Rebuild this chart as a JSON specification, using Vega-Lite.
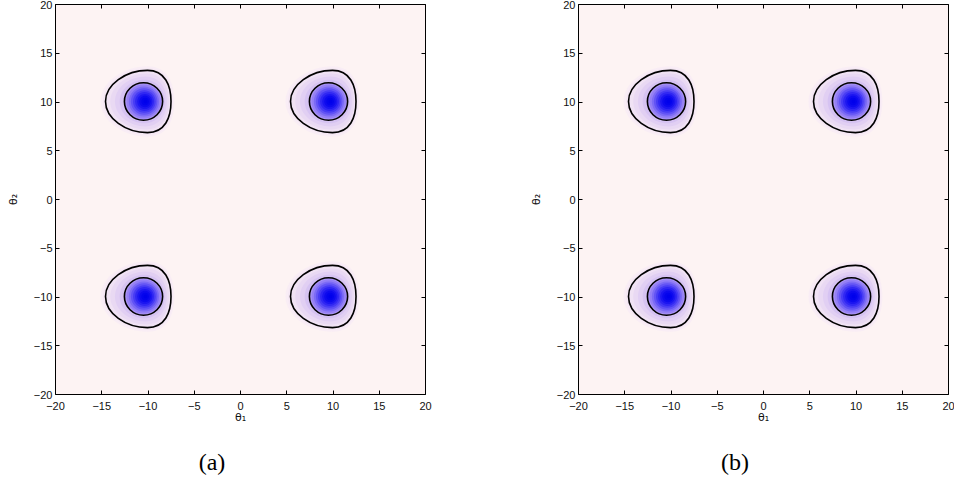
{
  "$schema": "https://vega.github.io/schema/vega-lite/v6.json",
  "background": "white",
  "padding": {"left": 7, "top": -1, "right": 5, "bottom": 5},
  "datasets": {
    "blobs": [
      {"panel": "a", "theta1": -10, "theta2": 10, "level": [0,1,2,3,4,5,6,7,8,9,10,11,12,13,14,15], "contour": [2,6]},
      {"panel": "a", "theta1": 10, "theta2": 10, "level": [0,1,2,3,4,5,6,7,8,9,10,11,12,13,14,15], "contour": [2,6]},
      {"panel": "a", "theta1": -10, "theta2": -10, "level": [0,1,2,3,4,5,6,7,8,9,10,11,12,13,14,15], "contour": [2,6]},
      {"panel": "a", "theta1": 10, "theta2": -10, "level": [0,1,2,3,4,5,6,7,8,9,10,11,12,13,14,15], "contour": [2,6]},
      {"panel": "b", "theta1": -10, "theta2": 10, "level": [0,1,2,3,4,5,6,7,8,9,10,11,12,13,14,15], "contour": [2,6]},
      {"panel": "b", "theta1": 10, "theta2": 10, "level": [0,1,2,3,4,5,6,7,8,9,10,11,12,13,14,15], "contour": [2,6]},
      {"panel": "b", "theta1": -10, "theta2": -10, "level": [0,1,2,3,4,5,6,7,8,9,10,11,12,13,14,15], "contour": [2,6]},
      {"panel": "b", "theta1": 10, "theta2": -10, "level": [0,1,2,3,4,5,6,7,8,9,10,11,12,13,14,15], "contour": [2,6]}
    ]
  },
  "spacing": 98,
  "hconcat": [
    {
      "width": 370, "height": 390,
      "data": {"name": "blobs"},
      "title": {"text": "(a)", "orient": "bottom", "anchor": "middle", "dx": -28, "offset": 29, "font": "Liberation Serif", "fontSize": 24, "fontWeight": "normal", "color": "black"},
      "transform": [{"filter": "datum.panel == 'a'"}],
      "layer": [
        {
          "transform": [{"flatten": ["level"]}],
          "mark": {"type": "point", "filled": true, "opacity": 1, "size": 7056, "strokeWidth": 0},
          "encoding": {
            "x": {"field": "theta1", "type": "quantitative", "scale": {"domain": [-20, 20], "nice": false, "zero": false},
              "axis": {"orient": "bottom", "values": [-20,-15,-10,-5,0,5,10,15,20], "tickSize": -4, "labelPadding": 10, "title": "θ₁", "titlePadding": 0}},
            "y": {"field": "theta2", "type": "quantitative", "scale": {"domain": [-20, 20], "nice": false, "zero": false},
              "axis": {"orient": "left", "values": [-20,-15,-10,-5,0,5,10,15,20], "tickSize": -4, "labelPadding": 7, "labelOffset": 1, "title": "θ₂", "titlePadding": 15}},
            "shape": {"field": "level", "type": "ordinal", "legend": null,
              "scale": {"domain": [0,1,2,3,4,5,6,7,8,9,10,11,12,13,14,15], "range": [
                "M-1.12,0C-1.12,-0.454,-0.582,-0.84,0,-0.84C0.48,-0.84,0.64,-0.428,0.64,0C0.64,0.428,0.48,0.84,0,0.84C-0.582,0.84,-1.12,0.454,-1.12,0Z",
                "M-1.06,0C-1.06,-0.427,-0.551,-0.79,0,-0.79C0.45,-0.79,0.6,-0.403,0.6,0C0.6,0.403,0.45,0.79,0,0.79C-0.551,0.79,-1.06,0.427,-1.06,0Z",
                "M-1,0C-1,-0.4,-0.52,-0.74,0,-0.74C0.42,-0.74,0.56,-0.377,0.56,0C0.56,0.377,0.42,0.74,0,0.74C-0.52,0.74,-1,0.4,-1,0Z",
                "M-0.888,0C-0.888,-0.362,-0.48,-0.666,-0.024,-0.666C0.35,-0.666,0.51,-0.347,0.51,0C0.51,0.347,0.35,0.666,-0.024,0.666C-0.48,0.666,-0.888,0.362,-0.888,0Z",
                "M-0.775,0C-0.775,-0.324,-0.438,-0.593,-0.048,-0.593C0.283,-0.593,0.46,-0.315,0.46,0C0.46,0.315,0.283,0.593,-0.048,0.593C-0.438,0.593,-0.775,0.324,-0.775,0Z",
                "M-0.663,0C-0.663,-0.285,-0.393,-0.519,-0.071,-0.519C0.218,-0.519,0.41,-0.281,0.41,0C0.41,0.281,0.218,0.519,-0.071,0.519C-0.393,0.519,-0.663,0.285,-0.663,0Z",
                "M-0.55,0C-0.55,-0.246,-0.346,-0.445,-0.095,-0.445C0.156,-0.445,0.36,-0.246,0.36,0C0.36,0.246,0.156,0.445,-0.095,0.445C-0.346,0.445,-0.55,0.246,-0.55,0Z",
                "M-0.5,0C-0.5,-0.224,-0.317,-0.405,-0.09,-0.405C0.137,-0.405,0.32,-0.224,0.32,0C0.32,0.224,0.137,0.405,-0.09,0.405C-0.317,0.405,-0.5,0.224,-0.5,0Z",
                "M-0.445,0C-0.445,-0.199,-0.283,-0.36,-0.085,-0.36C0.114,-0.36,0.275,-0.199,0.275,0C0.275,0.199,0.114,0.36,-0.085,0.36C-0.283,0.36,-0.445,0.199,-0.445,0Z",
                "M-0.395,0C-0.395,-0.174,-0.255,-0.315,-0.08,-0.315C0.094,-0.315,0.235,-0.174,0.235,0C0.235,0.174,0.094,0.315,-0.08,0.315C-0.255,0.315,-0.395,0.174,-0.395,0Z",
                "M-0.345,0C-0.345,-0.149,-0.225,-0.27,-0.075,-0.27C0.074,-0.27,0.195,-0.149,0.195,0C0.195,0.149,0.074,0.27,-0.075,0.27C-0.225,0.27,-0.345,0.149,-0.345,0Z",
                "M-0.295,0C-0.295,-0.124,-0.194,-0.225,-0.07,-0.225C0.054,-0.225,0.155,-0.124,0.155,0C0.155,0.124,0.054,0.225,-0.07,0.225C-0.194,0.225,-0.295,0.124,-0.295,0Z",
                "M-0.245,0C-0.245,-0.099,-0.164,-0.18,-0.065,-0.18C0.034,-0.18,0.115,-0.099,0.115,0C0.115,0.099,0.034,0.18,-0.065,0.18C-0.164,0.18,-0.245,0.099,-0.245,0Z",
                "M-0.195,0C-0.195,-0.075,-0.135,-0.135,-0.06,-0.135C0.015,-0.135,0.075,-0.075,0.075,0C0.075,0.075,0.015,0.135,-0.06,0.135C-0.135,0.135,-0.195,0.075,-0.195,0Z",
                "M-0.145,0C-0.145,-0.05,-0.105,-0.09,-0.055,-0.09C-0.005,-0.09,0.035,-0.05,0.035,0C0.035,0.05,-0.005,0.09,-0.055,0.09C-0.105,0.09,-0.145,0.05,-0.145,0Z",
                "M-0.095,0C-0.095,-0.025,-0.075,-0.045,-0.05,-0.045C-0.025,-0.045,-0.005,-0.025,-0.005,0C-0.005,0.025,-0.025,0.045,-0.05,0.045C-0.075,0.045,-0.095,0.025,-0.095,0Z"
              ]}},
            "fill": {"field": "level", "type": "ordinal", "legend": null,
              "scale": {"domain": [0,1,2,3,4,5,6,7,8,9,10,11,12,13,14,15], "range": ["#f9edf5","#f5e7f4","#f0e2f4","#e9d9f3","#e1cff3","#d6c3f2","#ab95f4","#9580f5","#7c6bf5","#6253f5","#473cf4","#3027f3","#1c16f1","#0d0aef","#0404ed","#0000ec"]}},
            "order": {"field": "level", "type": "quantitative"}
          }
        },
        {
          "transform": [{"flatten": ["contour"]}],
          "mark": {"type": "point", "filled": false, "opacity": 1, "size": 7056, "stroke": "black", "strokeWidth": 1.6},
          "encoding": {
            "x": {"field": "theta1", "type": "quantitative", "scale": {"domain": [-20, 20], "nice": false, "zero": false},
              "axis": {"orient": "top", "values": [-20,-15,-10,-5,0,5,10,15,20], "tickSize": -4, "labels": false, "title": null}},
            "y": {"field": "theta2", "type": "quantitative", "scale": {"domain": [-20, 20], "nice": false, "zero": false},
              "axis": {"orient": "right", "values": [-20,-15,-10,-5,0,5,10,15,20], "tickSize": -4, "labels": false, "title": null}},
            "shape": {"field": "contour", "type": "ordinal", "legend": null,
              "scale": {"domain": [0,1,2,3,4,5,6,7,8,9,10,11,12,13,14,15]}}
          }
        }
      ],
      "resolve": {"axis": {"x": "independent", "y": "independent"}}
    },
    {
      "width": 370, "height": 390,
      "data": {"name": "blobs"},
      "title": {"text": "(b)", "orient": "bottom", "anchor": "middle", "dx": -28, "offset": 29, "font": "Liberation Serif", "fontSize": 24, "fontWeight": "normal", "color": "black"},
      "transform": [{"filter": "datum.panel == 'b'"}],
      "layer": [
        {
          "transform": [{"flatten": ["level"]}],
          "mark": {"type": "point", "filled": true, "opacity": 1, "size": 7056, "strokeWidth": 0},
          "encoding": {
            "x": {"field": "theta1", "type": "quantitative", "scale": {"domain": [-20, 20], "nice": false, "zero": false},
              "axis": {"orient": "bottom", "values": [-20,-15,-10,-5,0,5,10,15,20], "tickSize": -4, "labelPadding": 10, "title": "θ₁", "titlePadding": 0}},
            "y": {"field": "theta2", "type": "quantitative", "scale": {"domain": [-20, 20], "nice": false, "zero": false},
              "axis": {"orient": "left", "values": [-20,-15,-10,-5,0,5,10,15,20], "tickSize": -4, "labelPadding": 7, "labelOffset": 1, "title": "θ₂", "titlePadding": 15}},
            "shape": {"field": "level", "type": "ordinal", "legend": null,
              "scale": {"domain": [0,1,2,3,4,5,6,7,8,9,10,11,12,13,14,15], "range": [
                "M-1.12,0C-1.12,-0.454,-0.582,-0.84,0,-0.84C0.48,-0.84,0.64,-0.428,0.64,0C0.64,0.428,0.48,0.84,0,0.84C-0.582,0.84,-1.12,0.454,-1.12,0Z",
                "M-1.06,0C-1.06,-0.427,-0.551,-0.79,0,-0.79C0.45,-0.79,0.6,-0.403,0.6,0C0.6,0.403,0.45,0.79,0,0.79C-0.551,0.79,-1.06,0.427,-1.06,0Z",
                "M-1,0C-1,-0.4,-0.52,-0.74,0,-0.74C0.42,-0.74,0.56,-0.377,0.56,0C0.56,0.377,0.42,0.74,0,0.74C-0.52,0.74,-1,0.4,-1,0Z",
                "M-0.888,0C-0.888,-0.362,-0.48,-0.666,-0.024,-0.666C0.35,-0.666,0.51,-0.347,0.51,0C0.51,0.347,0.35,0.666,-0.024,0.666C-0.48,0.666,-0.888,0.362,-0.888,0Z",
                "M-0.775,0C-0.775,-0.324,-0.438,-0.593,-0.048,-0.593C0.283,-0.593,0.46,-0.315,0.46,0C0.46,0.315,0.283,0.593,-0.048,0.593C-0.438,0.593,-0.775,0.324,-0.775,0Z",
                "M-0.663,0C-0.663,-0.285,-0.393,-0.519,-0.071,-0.519C0.218,-0.519,0.41,-0.281,0.41,0C0.41,0.281,0.218,0.519,-0.071,0.519C-0.393,0.519,-0.663,0.285,-0.663,0Z",
                "M-0.55,0C-0.55,-0.246,-0.346,-0.445,-0.095,-0.445C0.156,-0.445,0.36,-0.246,0.36,0C0.36,0.246,0.156,0.445,-0.095,0.445C-0.346,0.445,-0.55,0.246,-0.55,0Z",
                "M-0.5,0C-0.5,-0.224,-0.317,-0.405,-0.09,-0.405C0.137,-0.405,0.32,-0.224,0.32,0C0.32,0.224,0.137,0.405,-0.09,0.405C-0.317,0.405,-0.5,0.224,-0.5,0Z",
                "M-0.445,0C-0.445,-0.199,-0.283,-0.36,-0.085,-0.36C0.114,-0.36,0.275,-0.199,0.275,0C0.275,0.199,0.114,0.36,-0.085,0.36C-0.283,0.36,-0.445,0.199,-0.445,0Z",
                "M-0.395,0C-0.395,-0.174,-0.255,-0.315,-0.08,-0.315C0.094,-0.315,0.235,-0.174,0.235,0C0.235,0.174,0.094,0.315,-0.08,0.315C-0.255,0.315,-0.395,0.174,-0.395,0Z",
                "M-0.345,0C-0.345,-0.149,-0.225,-0.27,-0.075,-0.27C0.074,-0.27,0.195,-0.149,0.195,0C0.195,0.149,0.074,0.27,-0.075,0.27C-0.225,0.27,-0.345,0.149,-0.345,0Z",
                "M-0.295,0C-0.295,-0.124,-0.194,-0.225,-0.07,-0.225C0.054,-0.225,0.155,-0.124,0.155,0C0.155,0.124,0.054,0.225,-0.07,0.225C-0.194,0.225,-0.295,0.124,-0.295,0Z",
                "M-0.245,0C-0.245,-0.099,-0.164,-0.18,-0.065,-0.18C0.034,-0.18,0.115,-0.099,0.115,0C0.115,0.099,0.034,0.18,-0.065,0.18C-0.164,0.18,-0.245,0.099,-0.245,0Z",
                "M-0.195,0C-0.195,-0.075,-0.135,-0.135,-0.06,-0.135C0.015,-0.135,0.075,-0.075,0.075,0C0.075,0.075,0.015,0.135,-0.06,0.135C-0.135,0.135,-0.195,0.075,-0.195,0Z",
                "M-0.145,0C-0.145,-0.05,-0.105,-0.09,-0.055,-0.09C-0.005,-0.09,0.035,-0.05,0.035,0C0.035,0.05,-0.005,0.09,-0.055,0.09C-0.105,0.09,-0.145,0.05,-0.145,0Z",
                "M-0.095,0C-0.095,-0.025,-0.075,-0.045,-0.05,-0.045C-0.025,-0.045,-0.005,-0.025,-0.005,0C-0.005,0.025,-0.025,0.045,-0.05,0.045C-0.075,0.045,-0.095,0.025,-0.095,0Z"
              ]}},
            "fill": {"field": "level", "type": "ordinal", "legend": null,
              "scale": {"domain": [0,1,2,3,4,5,6,7,8,9,10,11,12,13,14,15], "range": ["#f9edf5","#f5e7f4","#f0e2f4","#e9d9f3","#e1cff3","#d6c3f2","#ab95f4","#9580f5","#7c6bf5","#6253f5","#473cf4","#3027f3","#1c16f1","#0d0aef","#0404ed","#0000ec"]}},
            "order": {"field": "level", "type": "quantitative"}
          }
        },
        {
          "transform": [{"flatten": ["contour"]}],
          "mark": {"type": "point", "filled": false, "opacity": 1, "size": 7056, "stroke": "black", "strokeWidth": 1.6},
          "encoding": {
            "x": {"field": "theta1", "type": "quantitative", "scale": {"domain": [-20, 20], "nice": false, "zero": false},
              "axis": {"orient": "top", "values": [-20,-15,-10,-5,0,5,10,15,20], "tickSize": -4, "labels": false, "title": null}},
            "y": {"field": "theta2", "type": "quantitative", "scale": {"domain": [-20, 20], "nice": false, "zero": false},
              "axis": {"orient": "right", "values": [-20,-15,-10,-5,0,5,10,15,20], "tickSize": -4, "labels": false, "title": null}},
            "shape": {"field": "contour", "type": "ordinal", "legend": null,
              "scale": {"domain": [0,1,2,3,4,5,6,7,8,9,10,11,12,13,14,15]}}
          }
        }
      ],
      "resolve": {"axis": {"x": "independent", "y": "independent"}}
    }
  ],
  "config": {
    "view": {"stroke": null, "fill": "#fdf3f3"},
    "axis": {
      "grid": false,
      "minExtent": 0,
      "domainColor": "black",
      "domainWidth": 1,
      "tickColor": "black",
      "tickWidth": 1,
      "labelFont": "Liberation Sans",
      "labelFontSize": 11,
      "labelColor": "#111111",
      "labelFlush": false,
      "labelOverlap": false,
      "titleFont": "DejaVu Sans",
      "titleFontSize": 11,
      "titleFontWeight": "normal",
      "titleColor": "#111111"
    }
  }
}
